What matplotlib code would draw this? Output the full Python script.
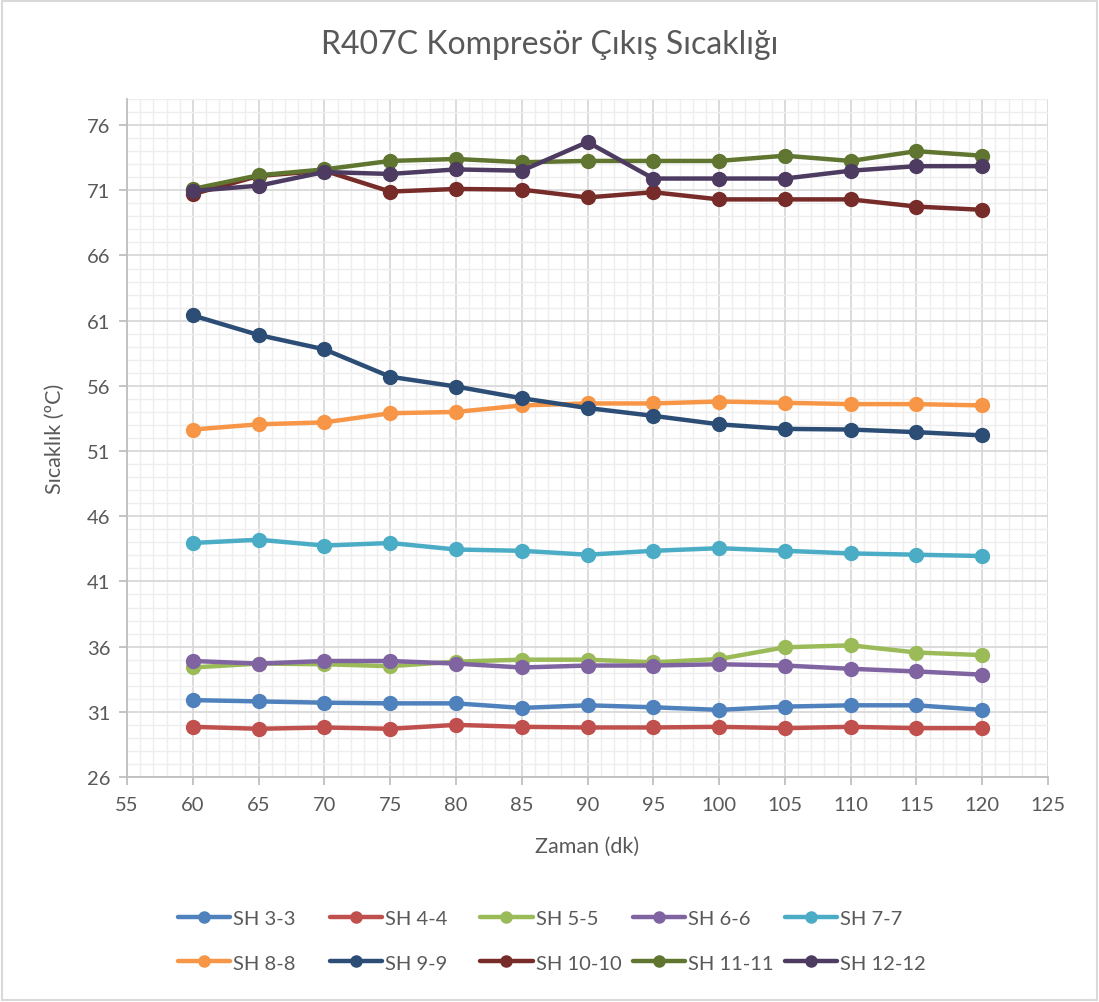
import matplotlib
matplotlib.use("Agg")
import matplotlib.pyplot as plt
from matplotlib.ticker import MultipleLocator
from matplotlib.patches import Rectangle

plt.rcParams['font.family'] = ['Lato', 'DejaVu Sans']

x = [60, 65, 70, 75, 80, 85, 90, 95, 100, 105, 110, 115, 120]

series_names = ["SH 3-3", "SH 4-4", "SH 5-5", "SH 6-6", "SH 7-7",
                "SH 8-8", "SH 9-9", "SH 10-10", "SH 11-11", "SH 12-12"]

sh3 = [31.9, 31.8, 31.7, 31.65, 31.65, 31.3, 31.5, 31.35, 31.15, 31.4, 31.5, 31.5, 31.15]
sh4 = [29.85, 29.7, 29.8, 29.7, 30.0, 29.85, 29.8, 29.8, 29.85, 29.75, 29.85, 29.75, 29.75]
sh5 = [34.4, 34.7, 34.65, 34.5, 34.85, 35.0, 35.0, 34.8, 35.05, 35.95, 36.1, 35.55, 35.35]
sh6 = [34.9, 34.7, 34.9, 34.9, 34.7, 34.4, 34.55, 34.55, 34.65, 34.55, 34.3, 34.1, 33.85]
sh7 = [43.95, 44.2, 43.75, 43.95, 43.45, 43.35, 43.05, 43.35, 43.55, 43.35, 43.15, 43.05, 42.95]
sh8 = [52.65, 53.05, 53.2, 53.9, 54.0, 54.5, 54.65, 54.65, 54.8, 54.7, 54.6, 54.6, 54.5]
sh9 = [61.4, 59.9, 58.8, 56.7, 55.95, 55.05, 54.3, 53.7, 53.05, 52.7, 52.65, 52.45, 52.2]
sh10 = [70.7, 72.1, 72.5, 70.9, 71.1, 71.05, 70.45, 70.85, 70.3, 70.3, 70.3, 69.75, 69.5]
sh11 = [71.1, 72.15, 72.6, 73.25, 73.4, 73.15, 73.25, 73.25, 73.25, 73.65, 73.25, 74.0, 73.65]
sh12 = [70.95, 71.35, 72.4, 72.25, 72.6, 72.5, 74.7, 71.9, 71.9, 71.9, 72.5, 72.85, 72.85]

colors = ["#4f81bd", "#c0504d", "#9bbb59", "#8064a2", "#4bacc6",
          "#f79646", "#2c4d75", "#772c2a", "#5f7530", "#4d3b62"]

data = [sh3, sh4, sh5, sh6, sh7, sh8, sh9, sh10, sh11, sh12]

fig = plt.figure(figsize=(10.99, 10.03), dpi=100)
fig.patches.append(Rectangle((0.002, 0.002), 0.996, 0.996, transform=fig.transFigure,
                             fill=False, edgecolor="#d9d9d9", linewidth=1.5))
ax = fig.add_axes([0.1156, 0.2243, 0.838, 0.676])

handles = []
for name, ys, c in zip(series_names, data, colors):
    h, = ax.plot(x, ys, color=c, linewidth=3.2, marker='o', markersize=10,
                 label=name, solid_capstyle='round')
    handles.append(h)

ax.set_xlim(55, 125)
ax.set_ylim(26, 78)
ax.xaxis.set_major_locator(MultipleLocator(5))
ax.set_yticks([26, 31, 36, 41, 46, 51, 56, 61, 66, 71, 76])
ax.xaxis.set_minor_locator(MultipleLocator(1))
ax.yaxis.set_minor_locator(MultipleLocator(1))
ax.grid(which='major', color='#d9d9d9', linewidth=1.3)
ax.grid(which='minor', color='#eeeeee', linewidth=1.0)
ax.set_axisbelow(True)
for s in ['top', 'right']:
    ax.spines[s].set_visible(False)
for s in ['left', 'bottom']:
    ax.spines[s].set_color('#bfbfbf')
    ax.spines[s].set_linewidth(1.3)
ax.tick_params(which='major', length=6, color='#bfbfbf', labelsize=14.5,
               labelcolor='#595959', width=1.3)
ax.tick_params(which='minor', length=0)
ax.tick_params(axis='x', pad=8)
ax.tick_params(axis='y', pad=6)

ax.set_xlabel("Zaman (dk)", fontsize=15.5, color='#595959', labelpad=16)
ax.set_ylabel("Sıcaklık (ºC)", fontsize=15.5, color='#595959', labelpad=16)
fig.text(0.5, 0.955, "R407C Kompresör Çıkış Sıcaklığı", ha='center', va='center',
         fontsize=23, color='#595959')

# Legend: five equal-width columns, two rows (row-wise order)
col_x = [0.162, 0.300, 0.437, 0.576, 0.714]
for col in range(5):
    idx = [col, col + 5]
    leg = fig.legend([handles[i] for i in idx], [series_names[i] for i in idx],
                     loc='center left', bbox_to_anchor=(col_x[col], 0.061),
                     frameon=False, fontsize=14.5, handlelength=2.6,
                     handletextpad=0.15, labelspacing=1.35, markerscale=0.8,
                     borderaxespad=0, borderpad=0)
    for t in leg.get_texts():
        t.set_color('#595959')

fig.savefig("out.png", dpi=100)
